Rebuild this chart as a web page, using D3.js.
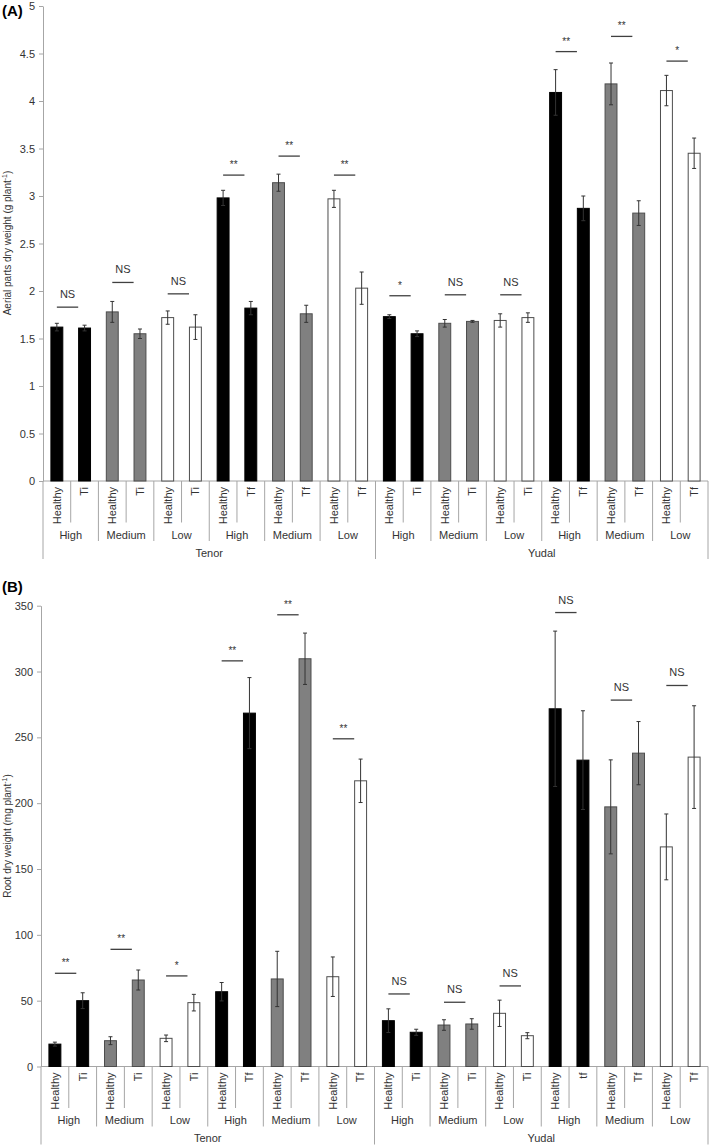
<!DOCTYPE html>
<html>
<head>
<meta charset="utf-8">
<script src="https://cdn.jsdelivr.net/npm/d3@7"></script>
<style>
  body { margin: 0; background: #fff; }
  svg { display: block; font-family: Arial, "Liberation Sans", sans-serif; }
</style>
</head>
<body>
<svg id="chart" width="709" height="1146"></svg>
<script>
// grouping of the 24 bars
const cultivars = ["Tenor", "Yudal"];
const levels = ["High", "Medium", "Low", "High", "Medium", "Low"];
const treatA = ["Healthy", "Ti", "Healthy", "Ti", "Healthy", "Ti", "Healthy", "Tf", "Healthy", "Tf", "Healthy", "Tf",
                "Healthy", "Ti", "Healthy", "Ti", "Healthy", "Ti", "Healthy", "Tf", "Healthy", "Tf", "Healthy", "Tf"];
const treatB = ["Healthy", "Ti", "Healthy", "Ti", "Healthy", "Ti", "Healthy", "Tf", "Healthy", "Tf", "Healthy", "Tf",
                "Healthy", "Ti", "Healthy", "Ti", "Healthy", "Ti", "Healthy", "tf", "Healthy", "Tf", "Healthy", "Tf"];
const levelFills = ["#000000", "#808080", "#ffffff"];

// (A) aerial parts dry weight, g plant-1
const valuesA = [1.62, 1.61, 1.78, 1.55, 1.72, 1.62, 2.98, 1.82, 3.14, 1.76, 2.97, 2.03,
                 1.73, 1.55, 1.66, 1.68, 1.69, 1.72, 4.09, 2.87, 4.18, 2.82, 4.11, 3.45];
const errA = [0.04, 0.03, 0.11, 0.05, 0.07, 0.13, 0.08, 0.07, 0.09, 0.09, 0.09, 0.17,
              0.02, 0.03, 0.04, 0.01, 0.07, 0.05, 0.24, 0.13, 0.22, 0.13, 0.16, 0.16];
const sigA = ["NS", "NS", "NS", "**", "**", "**", "*", "NS", "NS", "**", "**", "*"];
const sigLevelA = [1.83, 2.09, 1.97, 3.22, 3.42, 3.22, 1.95, 1.96, 1.96, 4.52, 4.68, 4.42];
const ticksA = [0, 0.5, 1, 1.5, 2, 2.5, 3, 3.5, 4, 4.5, 5];

// (B) root dry weight, mg plant-1
const valuesB = [17, 50, 19.6, 65.7, 21.4, 48.5, 56.8, 268.4, 66.5, 309.7, 68.2, 217,
                 34.8, 26, 31.5, 32.3, 40.4, 23.4, 271.7, 232.7, 197.2, 238, 166.8, 235];
const errB = [1.5, 6, 3, 7.6, 2.5, 6.3, 7, 27, 21, 19.5, 15, 16.5,
              9, 2.3, 4, 4, 10, 2.3, 59, 37.5, 35.7, 24, 25, 39];
const sigB = ["**", "**", "*", "**", "**", "**", "NS", "NS", "NS", "NS", "NS", "NS"];
const sigLevelB = [70.8, 89, 68.8, 308.1, 343.1, 248.9, 55.1, 48.8, 61.2, 344.8, 278.3, 289.4];
const ticksB = [0, 50, 100, 150, 200, 250, 300, 350];

const svg = d3.select("#chart");
const axisGray = "#a6a6a6";
const textCol = "#333333";

function drawPanel(p) {
  const g = svg.append("g");
  const n = p.values.length;
  const x = d3.scaleBand().domain(d3.range(n)).range([p.left, p.right]).padding(0);
  const y = d3.scaleLinear().domain([0, p.max]).range([p.bottom, p.top]);
  const bw = x.bandwidth();
  const barW = bw * 0.43;

  // panel letter
  g.append("text").attr("x", 2).attr("y", p.letterY)
    .attr("font-size", 15).attr("font-weight", "bold").attr("fill", "#000")
    .text(p.letter);

  // y axis
  const ya = g.append("g").attr("transform", "translate(" + p.left + ",0)")
    .call(d3.axisLeft(y).tickValues(p.ticks).tickFormat(d3.format("~g"))
      .tickSize(4).tickSizeOuter(0).tickPadding(4));
  ya.select(".domain").attr("stroke", axisGray);
  ya.selectAll(".tick line").attr("stroke", axisGray);
  ya.selectAll(".tick text").attr("font-size", 11).attr("fill", textCol)
    .attr("font-family", "Arial, 'Liberation Sans', sans-serif");

  // y title
  const t = g.append("text")
    .attr("transform", "translate(" + p.titleX + "," + p.titleY + ") rotate(-90)")
    .attr("text-anchor", "middle").attr("font-size", 10).attr("fill", textCol);
  t.append("tspan").text(p.title);
  t.append("tspan").attr("font-size", 7).attr("dy", -4).text("-1");
  t.append("tspan").attr("dy", 4).text(")");

  // category axis: baseline, separators
  g.append("line").attr("x1", p.left).attr("x2", p.right)
    .attr("y1", y(0)).attr("y2", y(0)).attr("stroke", axisGray);
  for (let i = 0; i <= n; i++) {
    let len = 41.5;
    if (i % 2 === 0) len = 60;
    if (i % 12 === 0) len = 78;
    const xx = i === n ? p.right : x(i);
    g.append("line").attr("x1", xx).attr("x2", xx)
      .attr("y1", y(0)).attr("y2", y(0) + len).attr("stroke", axisGray);
  }

  // treatment labels
  g.selectAll(".treat").data(p.treat).enter().append("text")
    .attr("class", "treat")
    .attr("transform", (d, i) => "translate(" + (x(i) + bw / 2) + "," + (y(0) + 6) + ") rotate(-90)")
    .attr("text-anchor", "end").attr("dy", "0.35em")
    .attr("font-size", 11).attr("fill", textCol)
    .text(d => d);

  // level labels
  const lvl = cultivars.flatMap(() => levels);
  g.selectAll(".lvl").data(lvl).enter().append("text")
    .attr("x", (d, j) => x(j * 2) + bw)
    .attr("y", y(0) + 54).attr("dy", "0.35em")
    .attr("text-anchor", "middle").attr("font-size", 11).attr("fill", textCol)
    .text(d => d);

  // cultivar labels
  g.selectAll(".cv").data(cultivars).enter().append("text")
    .attr("x", (d, k) => x(k * 12) + bw * 6)
    .attr("y", y(0) + 72).attr("dy", "0.35em")
    .attr("text-anchor", "middle").attr("font-size", 11).attr("fill", textCol)
    .text(d => d);

  // bars
  g.selectAll(".bar").data(p.values).enter().append("rect")
    .attr("x", (d, i) => x(i) + (bw - barW) / 2)
    .attr("y", d => y(d))
    .attr("width", barW)
    .attr("height", d => y(0) - y(d))
    .attr("fill", (d, i) => levelFills[Math.floor(i / 2) % 3])
    .attr("stroke", (d, i) => Math.floor(i / 2) % 3 === 0 ? "#000" : "#4d4d4d")
    .attr("stroke-width", 1);

  // error bars
  const eb = g.selectAll(".err").data(p.values).enter().append("g")
    .attr("stroke", "#333").attr("stroke-width", 1);
  eb.append("line")
    .attr("x1", (d, i) => x(i) + bw / 2).attr("x2", (d, i) => x(i) + bw / 2)
    .attr("y1", (d, i) => y(d - p.err[i])).attr("y2", (d, i) => y(d + p.err[i]));
  eb.append("line")
    .attr("x1", (d, i) => x(i) + bw / 2 - 2).attr("x2", (d, i) => x(i) + bw / 2 + 2)
    .attr("y1", (d, i) => y(d + p.err[i])).attr("y2", (d, i) => y(d + p.err[i]));
  eb.append("line")
    .attr("x1", (d, i) => x(i) + bw / 2 - 2).attr("x2", (d, i) => x(i) + bw / 2 + 2)
    .attr("y1", (d, i) => y(d - p.err[i])).attr("y2", (d, i) => y(d - p.err[i]));

  // significance marks
  p.sig.forEach((s, j) => {
    const x1 = x(j * 2) + bw / 2;
    const x2 = x1 + bw * 0.77;
    const yy = y(p.sigLevel[j]);
    g.append("line").attr("x1", x1).attr("x2", x2).attr("y1", yy).attr("y2", yy)
      .attr("stroke", "#404040").attr("stroke-width", 1.3);
    g.append("text").attr("x", (x1 + x2) / 2).attr("y", s === "NS" ? yy - 9 : yy - 7)
      .attr("text-anchor", "middle").attr("font-size", s === "NS" ? 11 : 10)
      .attr("fill", textCol).text(s);
  });
}

drawPanel({
  letter: "(A)", letterY: 16,
  left: 43, right: 708, top: 6, bottom: 481, max: 5,
  values: valuesA, err: errA, sig: sigA, sigLevel: sigLevelA, ticks: ticksA,
  treat: treatA, title: "Aerial parts dry weight (g plant", titleX: 11, titleY: 243
});

drawPanel({
  letter: "(B)", letterY: 592,
  left: 41, right: 708, top: 605.7, bottom: 1066.5, max: 350,
  values: valuesB, err: errB, sig: sigB, sigLevel: sigLevelB, ticks: ticksB,
  treat: treatB, title: "Root dry weight (mg  plant", titleX: 11, titleY: 836
});
</script>
</body>
</html>
